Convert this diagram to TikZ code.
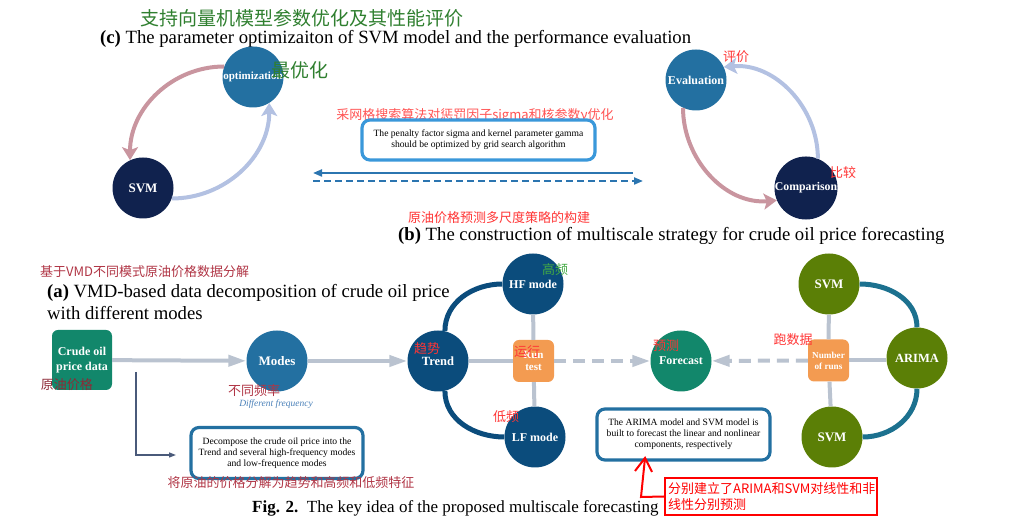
\documentclass[tikz,border=0pt]{standalone}
\usepackage{fontspec}
\setmainfont{Liberation Serif}
\newfontfamily\cjk{Noto Sans CJK SC}
\usetikzlibrary{arrows.meta}
\definecolor{steel}{HTML}{2370A1}
\definecolor{navy}{HTML}{10224E}
\definecolor{dblue}{HTML}{0B4C7C}
\definecolor{tgreen}{HTML}{12876B}
\definecolor{olive}{HTML}{5B7F06}
\definecolor{orng}{HTML}{F39B51}
\definecolor{lgray}{HTML}{BAC3D0}
\definecolor{pinkarc}{HTML}{C9959F}
\definecolor{lavarc}{HTML}{B3C1E2}
\definecolor{tealarc}{HTML}{1C718F}
\definecolor{boxblue}{HTML}{3A98DA}
\definecolor{midblue}{HTML}{2B75B0}
\definecolor{redA}{HTML}{FF3535}
\definecolor{maroonA}{HTML}{B03545}
\definecolor{greenA}{HTML}{2F7F2F}
\definecolor{greenB}{HTML}{44AA44}
\definecolor{thinline}{HTML}{4A5A7A}
\definecolor{freqblue}{HTML}{4A80B8}
\begin{document}
\begin{tikzpicture}[x=1pt,y=1pt,
  circ/.style={circle, minimum size=61pt, inner sep=0pt, text=white, font=\bfseries\fontsize{13}{14}\selectfont, align=center},
  rbox/.style={rounded corners=6pt, minimum width=41pt, minimum height=42pt, inner sep=0pt, fill=orng, text=white, align=center, font=\bfseries\fontsize{11}{12.5}\selectfont},
  txtbox/.style={draw=steel, line width=3.2pt, rounded corners=8pt, fill=white, align=center, font=\fontsize{9.6}{11}\selectfont, inner sep=0pt},
  glink/.style={draw=lgray, line width=4pt},
  garrow/.style={glink, -{Triangle[length=18pt,width=11pt]}},
  gdash/.style={garrow, dash pattern=on 12pt off 7pt},
  bigarc/.style={line width=4pt},
  arctip/.style={-{Stealth[length=13pt,width=16pt,inset=3pt]}},
  redt/.style={text=redA, font=\cjk\fontsize{13}{14}\selectfont, inner sep=0pt},
  maroont/.style={text=maroonA, font=\cjk\fontsize{13}{14}\selectfont, inner sep=0pt},
  greent/.style={text=greenA, font=\cjk\fontsize{19}{20}\selectfont, inner sep=0pt},
  titletext/.style={font=\fontsize{18.7}{21}\selectfont, inner sep=0pt, anchor=west},
]
\useasboundingbox (0,0) rectangle (1013,524);

% ---------------- (c) ----------------
\node[greent] (tc) at (302,506) {支持向量机模型参数优化及其性能评价};
\node[titletext] (ttc) at (100,485) {\textbf{(c)} The parameter optimizaiton of SVM model and the performance evaluation};

\node[circ, fill=steel, font=\bfseries\fontsize{11}{12}\selectfont] (opt) at (253,447) {optimization};
\node[circ, fill=navy] (svmc) at (143,336) {SVM};
\node[greent] (zyh) at (300,454) {最优化};
\draw[pinkarc, bigarc, arctip] (opt.160) to[out=180,in=90] (svmc.115);
\draw[lavarc, bigarc, arctip] (svmc.-20) to[out=0,in=-90] (opt.-58);

\node[redt, text=redA!85] (cwg) at (475,408) {采网格搜索算法对惩罚因子sigma和核参数γ优化};
\node[txtbox, draw=boxblue, minimum width=233pt, minimum height=40pt] (pen) at (478.5,384) {The penalty factor sigma and kernel parameter gamma\\should be optimized by grid search algorithm};

\coordinate (a1) at (633,351);
\coordinate (a2) at (313,351);
\coordinate (a3) at (313,343);
\coordinate (a4) at (643,343);
\draw[midblue, line width=2pt, -{Triangle[length=9pt,width=7pt]}] (a1) -- (a2);
\draw[midblue, line width=2pt, dash pattern=on 7pt off 4pt, -{Triangle[length=9pt,width=7pt]}] (a3) -- (a4);

\node[circ, fill=steel, font=\bfseries\fontsize{12}{13}\selectfont] (eval) at (696,444) {Evaluation};
\node[circ, fill=navy, font=\bfseries\fontsize{11.8}{13}\selectfont] (comp) at (806,336) {Comparison};
\draw[lavarc, bigarc, arctip] (comp.68) to[out=90,in=5] (eval.25);
\draw[pinkarc, bigarc, arctip] (eval.-115) to[out=-90,in=185] (comp.203);
\node[redt] (pj) at (736,467) {评价};
\node[redt] (bj) at (843,351) {比较};

% ---------------- (b) ----------------
\node[redt] (tbcn) at (499,306) {原油价格预测多尺度策略的构建};
\node[titletext] (ttb) at (398,288) {\textbf{(b)} The construction of multiscale strategy for crude oil price forecasting};

% ---------------- (a) ----------------
\node[maroont, anchor=west] (tacn) at (40,252) {基于VMD不同模式原油价格数据分解};
\node[titletext] (tta1) at (47,231) {\textbf{(a)} VMD-based data decomposition of crude oil price};
\node[titletext] (tta2) at (47,211) {with different modes};

\node[fill=tgreen, rounded corners=6pt, minimum width=60pt, minimum height=60pt, inner sep=0pt, text=white, font=\bfseries\fontsize{12}{14.5}\selectfont, align=center] (crude) at (82,164) {Crude oil\\price data};
\node[circ, fill=steel] (modes) at (277,163) {Modes};
\node[maroont, text=maroonA!80!black] (yyjg) at (67,139) {原油价格};
\node[maroont] (btpl) at (254,133) {不同频率};
\node[text=freqblue, font=\itshape\fontsize{9.5}{10}\selectfont, inner sep=0pt] (dfq) at (276,120) {Different frequency};

\node[circ, fill=dblue, font=\bfseries\fontsize{12.5}{14}\selectfont] (trend) at (438,163) {Trend};
\node[circ, fill=dblue, font=\bfseries\fontsize{12}{13}\selectfont] (hf) at (533,240) {HF mode};
\node[circ, fill=dblue, font=\bfseries\fontsize{12}{13}\selectfont] (lf) at (535,87) {LF mode};
\node[rbox] (run) at (533.5,163) {Run\\test};
\node[circ, fill=tgreen, font=\bfseries\fontsize{12}{13}\selectfont] (fc) at (681,163) {Forecast};
\node[rbox, font=\bfseries\fontsize{9.2}{11}\selectfont] (nr) at (828.5,163.5) {Number\\of runs};
\node[circ, fill=olive] (svma) at (829,240) {SVM};
\node[circ, fill=olive, font=\bfseries\fontsize{12.5}{14}\selectfont] (arima) at (917,166) {ARIMA};
\node[circ, fill=olive] (svmb) at (832,87) {SVM};

\draw[garrow] (crude) -- (modes);
\draw[garrow] (modes) -- (trend);
\draw[glink] (trend) -- (run);
\draw[glink] (hf) -- (run);
\draw[glink] (run) -- (lf);
\draw[gdash] (run) -- (fc);
\draw[gdash] (nr) -- (fc);
\draw[glink] (svma) -- (nr);
\draw[glink] (nr) -- (svmb);
\draw[glink] (nr) -- (nr -| arima.west);

\draw[dblue, line width=5pt] (trend.77) to[out=90,in=180] (hf.west);
\draw[dblue, line width=5pt] (trend.-77) to[out=-90,in=180] (lf.west);
\draw[tealarc, line width=5pt] (svma.east) to[out=0,in=90] (arima.north);
\draw[tealarc, line width=5pt] (arima.south) to[out=-90,in=0] (svmb.east);

\node[redt] (qs) at (427,175) {趋势};
\node[redt, text=greenB] (gp) at (555,254) {高频};
\node[redt] (dp) at (506,107) {低频};
\node[redt] (yx) at (527,172) {运行};
\node[redt] (yc) at (666,178) {预测};
\node[redt] (psj) at (793,184) {跑数据};

\node[txtbox, minimum width=172pt, minimum height=51pt] (decomp) at (277,71) {Decompose the crude oil price into the\\Trend and several high-frequency modes\\and low-frequence modes};
\coordinate (t1) at (136,152);
\coordinate (t2) at (136,69);
\coordinate (t3) at (176,69);
\draw[thinline, line width=1.3pt, -{Triangle[length=7pt,width=5pt]}] (t1) -- (t2) -- (t3);
\node[maroont] (jyy) at (291,41) {将原油的价格分解为趋势和高频和低频特征};

\node[txtbox, minimum width=173pt, minimum height=51pt] (arbox) at (683.5,89.5) {The ARIMA model and SVM model is\\built to forecast the linear and nonlinear\\components, respectively};

% ---------------- caption & annotation ----------------
\node[anchor=west, font=\fontsize{17}{19}\selectfont, inner sep=0pt] (cap) at (252,16) {\textbf{Fig. 2.}\ \ The key idea of the proposed multiscale forecasting};
\node[draw=red, line width=2pt, fill=white, minimum width=212pt, minimum height=37pt, inner sep=0pt] (redbox) at (771,27.5) {};
\node[anchor=west, text=red, font=\cjk\fontsize{13}{15.5}\selectfont, align=left, inner sep=0pt] (redtxt) at (668,27.5) {分别建立了ARIMA和SVM对线性和非\\线性分别预测};
\coordinate (tip) at (645,66);
\coordinate (barbl) at (635,53);
\coordinate (barbr) at (652,52);
\coordinate (shaft) at (641,27);
\draw[red, line width=2pt] (barbl) -- (tip) -- (barbr);
\draw[red, line width=2pt] (tip) -- (shaft) -- (redbox.west);
\end{tikzpicture}
\end{document}
